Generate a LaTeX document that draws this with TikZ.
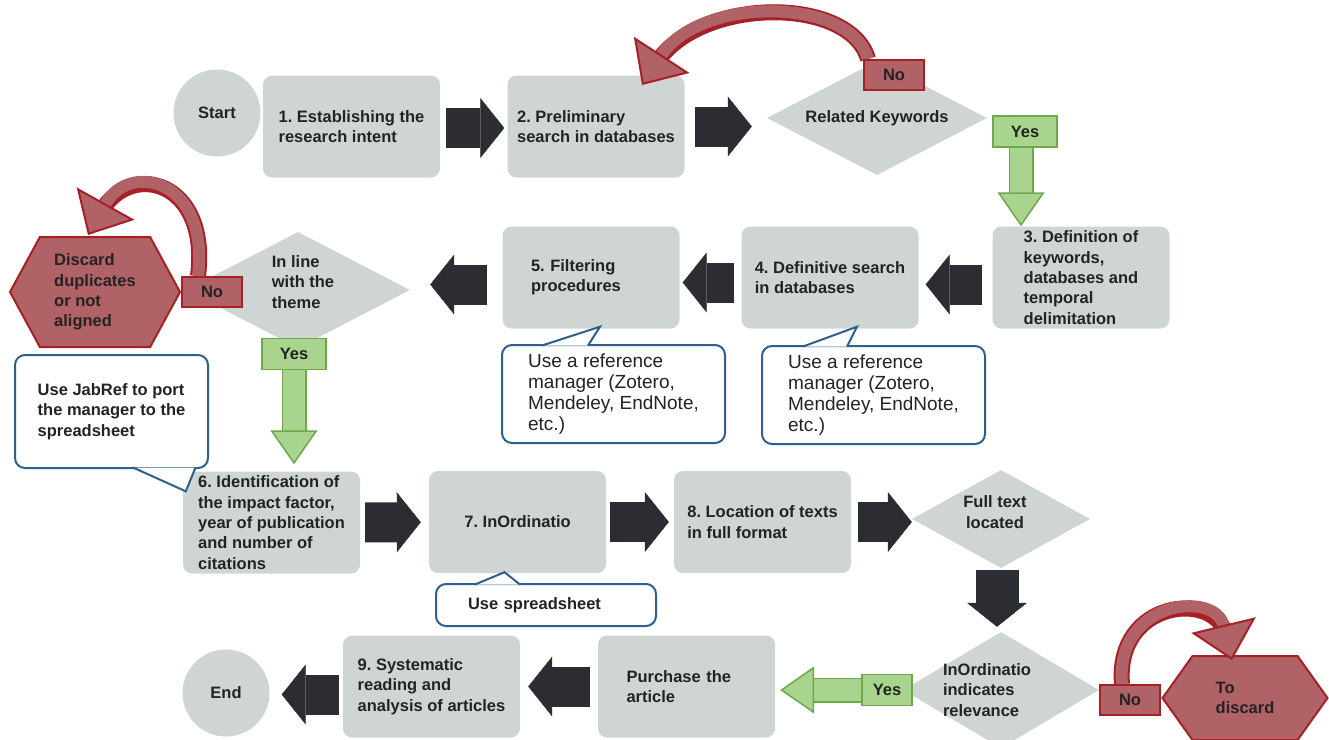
\documentclass[tikz,border=0pt]{standalone}
\usepackage{fontspec}
\setmainfont{Liberation Sans}
\usepackage{tikz}
\usetikzlibrary{arrows.meta,shapes.geometric,shapes.symbols}
\pgfdeclarelayer{front}
\pgfsetlayers{main,front}

\begin{document}
\frenchspacing
\begin{tikzpicture}[x=1pt, y=-1pt,
    every node/.style={font=\fontsize{16.5}{20.3}\selectfont\bfseries, text=ink},
    stepbox/.style={rectangle, rounded corners=9pt, fill=boxgray, minimum width=177pt,
                    minimum height=102pt, align=left, inner sep=0pt},
    terminal/.style={circle, fill=boxgray, minimum size=87pt, inner sep=0pt},
    decision/.style={diamond, fill=boxgray, inner sep=0pt},
    hexnode/.style={signal, signal to=west and east, fill=redfill, draw=redline,
                    line width=2pt, align=left, inner sep=0pt},
    notag/.style={rectangle, fill=redfill, draw=redline, line width=2pt,
                  minimum width=60pt, minimum height=30pt, inner sep=0pt},
    yestag/.style={rectangle, fill=greenfill, draw=greenline, line width=1.5pt,
                   minimum width=64pt, minimum height=31pt, inner sep=0pt},
    note/.style={rectangle, rounded corners=10pt, draw=noteblue, fill=white,
                 line width=2pt, align=left, inner sep=0pt},
    notetip/.style={draw=noteblue, fill=white, line width=2pt},
    darrow/.style={draw=arrowdark, line width=40pt,
                   -{Triangle[length=24pt 0, width=60pt 0, line width=0.5pt 0]}},
    garrow/.style={draw=greenfill, line width=22pt,
                   -{Triangle[length=34pt 0, width=47pt 0, fill=greenfill, color=greenline, line width=1.5pt 0]},
                   preaction={draw=greenline, line width=25pt, -, shorten >=30pt}},
    rarrow/.style={draw=redfill, line width=12pt,
                   -{Triangle[length=36pt 0, width=66pt 0, fill=redfill, color=redline, line width=2pt 0]},
                   preaction={draw=redline, line width=16pt, -, shorten >=26pt}}]
    \definecolor{boxgray}{RGB}{207,213,211}
    \definecolor{arrowdark}{RGB}{43,45,50}
    \definecolor{redfill}{RGB}{176,98,103}
    \definecolor{redline}{RGB}{166,33,38}
    \definecolor{greenfill}{RGB}{169,212,142}
    \definecolor{greenline}{RGB}{110,168,74}
    \definecolor{noteblue}{RGB}{47,95,140}
    \definecolor{ink}{RGB}{35,35,35}

    \useasboundingbox (0,0) rectangle (1329,739);

    % start and end
    \node[terminal] (start) at (217,113) {Start};
    \node[terminal] (end)   at (226,693) {End};

    % steps of the method
    \node[stepbox] (s1) at (351.5,126.5) {1. Establishing the\\research intent};
    \node[stepbox] (s2) at (596,126.5) {2. Preliminary\\search in databases};
    \node[stepbox] (s3) at (1081,277.5) {3. Definition of\\keywords,\\databases and\\temporal\\delimitation};
    \node[stepbox] (s4) at (830,277.5) {4. Definitive search\\in databases};
    \node[stepbox, text width=120pt] (s5) at (591,277.5) {5. Filtering\\procedures};
    \node[stepbox] (s6) at (271.5,522.5) {6. Identification of\\the impact factor,\\year of publication\\and number of\\citations};
    \node[stepbox] (s7) at (517.5,522) {7. InOrdinatio};
    \node[stepbox] (s8) at (762.5,522) {8. Location of texts\\in full format};
    \node[stepbox] (s9) at (431.5,686.5) {9. Systematic\\reading and\\analysis of articles};
    \node[stepbox, text width=120pt] (buy) at (686.5,686.5) {Purchase the\\article};

    % decisions
    \node[decision, minimum width=220pt, minimum height=114pt,
          label={[align=left]center:Related Keywords}] (kw) at (877,118) {};
    \node[decision, minimum width=224pt, minimum height=116pt,
          label={[align=left, xshift=5pt, yshift=8pt]center:In line\\with the\\theme}] (theme) at (298,290) {};
    \node[decision, minimum width=178pt, minimum height=98pt,
          label={[align=center, xshift=-6pt, yshift=7pt]center:Full text\\located}] (full) at (1001,519) {};
    \node[decision, minimum width=196pt, minimum height=116pt,
          label={[align=left, xshift=-14pt]center:InOrdinatio\\indicates\\relevance}] (rel) at (1001,690) {};

    % rejected items
    \node[hexnode, minimum width=170pt, minimum height=110pt, signal pointer angle=123]
        (dup) at (95,292) {Discard\\duplicates\\or not\\aligned};
    \node[hexnode, minimum width=165pt, minimum height=84pt, signal pointer angle=109]
        (drop) at (1245,698) {To\\discard};

    % yes / no tags
    \begin{pgfonlayer}{front}
    \node[notag] (kwno) at (894,75) {No};
    \node[yestag] (kwyes) at (1025,131.5) {Yes};
    \node[notag] (dupno) at (212,292) {No};
    \node[yestag] (themeyes) at (294,354) {Yes};
    \node[yestag, minimum width=50pt] (relyes) at (887,690) {Yes};
    \node[notag] (relno) at (1130,700) {No};
    \end{pgfonlayer}

    % main flow
    \draw[darrow, shorten <=6pt, shorten >=3pt] ([yshift=-1.5pt]s1.east) -- ([yshift=-1.5pt]s2.west);
    \draw[darrow, shorten <=10pt, shorten >=15pt] (s2.east) -- (s2.east -| kw.west);
    \draw[darrow, shorten <=10pt, shorten >=7pt] ([yshift=-7pt]s3.west) -- ([yshift=-7pt]s4.east);
    \draw[darrow, shorten <=7pt, shorten >=3pt] ([yshift=-5pt]s4.west) -- ([yshift=-5pt]s5.east);
    \draw[darrow, shorten <=15pt, shorten >=20pt] ([yshift=-7pt]s5.west) -- ([yshift=-7pt]s5.west -| theme.east);
    \draw[darrow, shorten <=5pt, shorten >=8pt] (s6) -- (s7);
    \draw[darrow, shorten <=4pt, shorten >=5pt] (s7) -- (s8);
    \draw[darrow, shorten <=7pt] (s8.east) -- (s8.east -| full.west);
    \draw[darrow, line width=43pt, shorten <=2pt, shorten >=5pt]
        ([xshift=-4pt]full.south) -- ([xshift=-4pt]rel.north);
    \draw[darrow, shorten <=8pt, shorten >=8pt] (buy) -- (s9);
    \draw[darrow, shorten <=4pt, shorten >=12pt] ([yshift=-8pt]s9.west) -- ([yshift=-8pt]s9.west -| end.east);

    % yes branches
    \draw[garrow] ([xshift=-4pt]kwyes.south) -- ([xshift=-4pt]kwyes.south |- s3.north);
    \draw[garrow, shorten >=7pt] (themeyes.south) -- (themeyes.south |- s6.north);
    \draw[garrow, shorten >=5pt] (rel.west) -- (rel.west -| buy.east);

    % no branches
    \coordinate (kwback)   at (642,85);
    \coordinate (dupback)  at (88,235);
    \coordinate (dropback) at (1232,660);
    \draw[rarrow] ([xshift=-26pt]kwno.north) .. controls (850,-4) and (700,-4) .. (kwback);
    \draw[rarrow] ([xshift=-14pt]dupno.north) .. controls (210,180) and (130,160) .. (dupback);
    \draw[rarrow] ([xshift=-8pt]relno.north) .. controls (1115,600) and (1215,590) .. (dropback);

    % notes
    \node[note, minimum width=223pt, minimum height=98pt, font=\fontsize{19}{21}\selectfont]
        (n5) at (613.5,394) {Use a reference\\manager (Zotero,\\Mendeley, EndNote,\\etc.)};
    \node[note, minimum width=223pt, minimum height=98pt, font=\fontsize{19}{21}\selectfont]
        (n4) at (873.5,395) {Use a reference\\manager (Zotero,\\Mendeley, EndNote,\\etc.)};
    \node[note, minimum width=193pt, minimum height=113pt]
        (n6) at (111.5,411.5) {Use JabRef to port\\the manager to the\\spreadsheet};
    \node[note, minimum width=220pt, minimum height=42pt, text width=156pt]
        (n7) at (546,605) {Use spreadsheet};
    \filldraw[notetip] ([xshift=-71.5pt,yshift=-1.5pt]n5.north) -- ([xshift=9pt,yshift=2pt]s5.south)
        -- ([xshift=-25.5pt,yshift=-1.5pt]n5.north);
    \filldraw[notetip] ([xshift=-70.5pt,yshift=-1.5pt]n4.north) -- ([xshift=27pt,yshift=2pt]s4.south)
        -- ([xshift=-26.5pt,yshift=-1.5pt]n4.north);
    \filldraw[notetip] ([xshift=21.5pt,yshift=1.5pt]n6.south) -- ([xshift=3pt,yshift=-20pt]s6.north west)
        -- ([xshift=84pt,yshift=1.5pt]n6.south);
    \filldraw[notetip] ([xshift=-71pt,yshift=-1.5pt]n7.north) -- ([xshift=-13pt,yshift=1pt]s7.south)
        -- ([xshift=-26pt,yshift=-1.5pt]n7.north);
\end{tikzpicture}
\end{document}
